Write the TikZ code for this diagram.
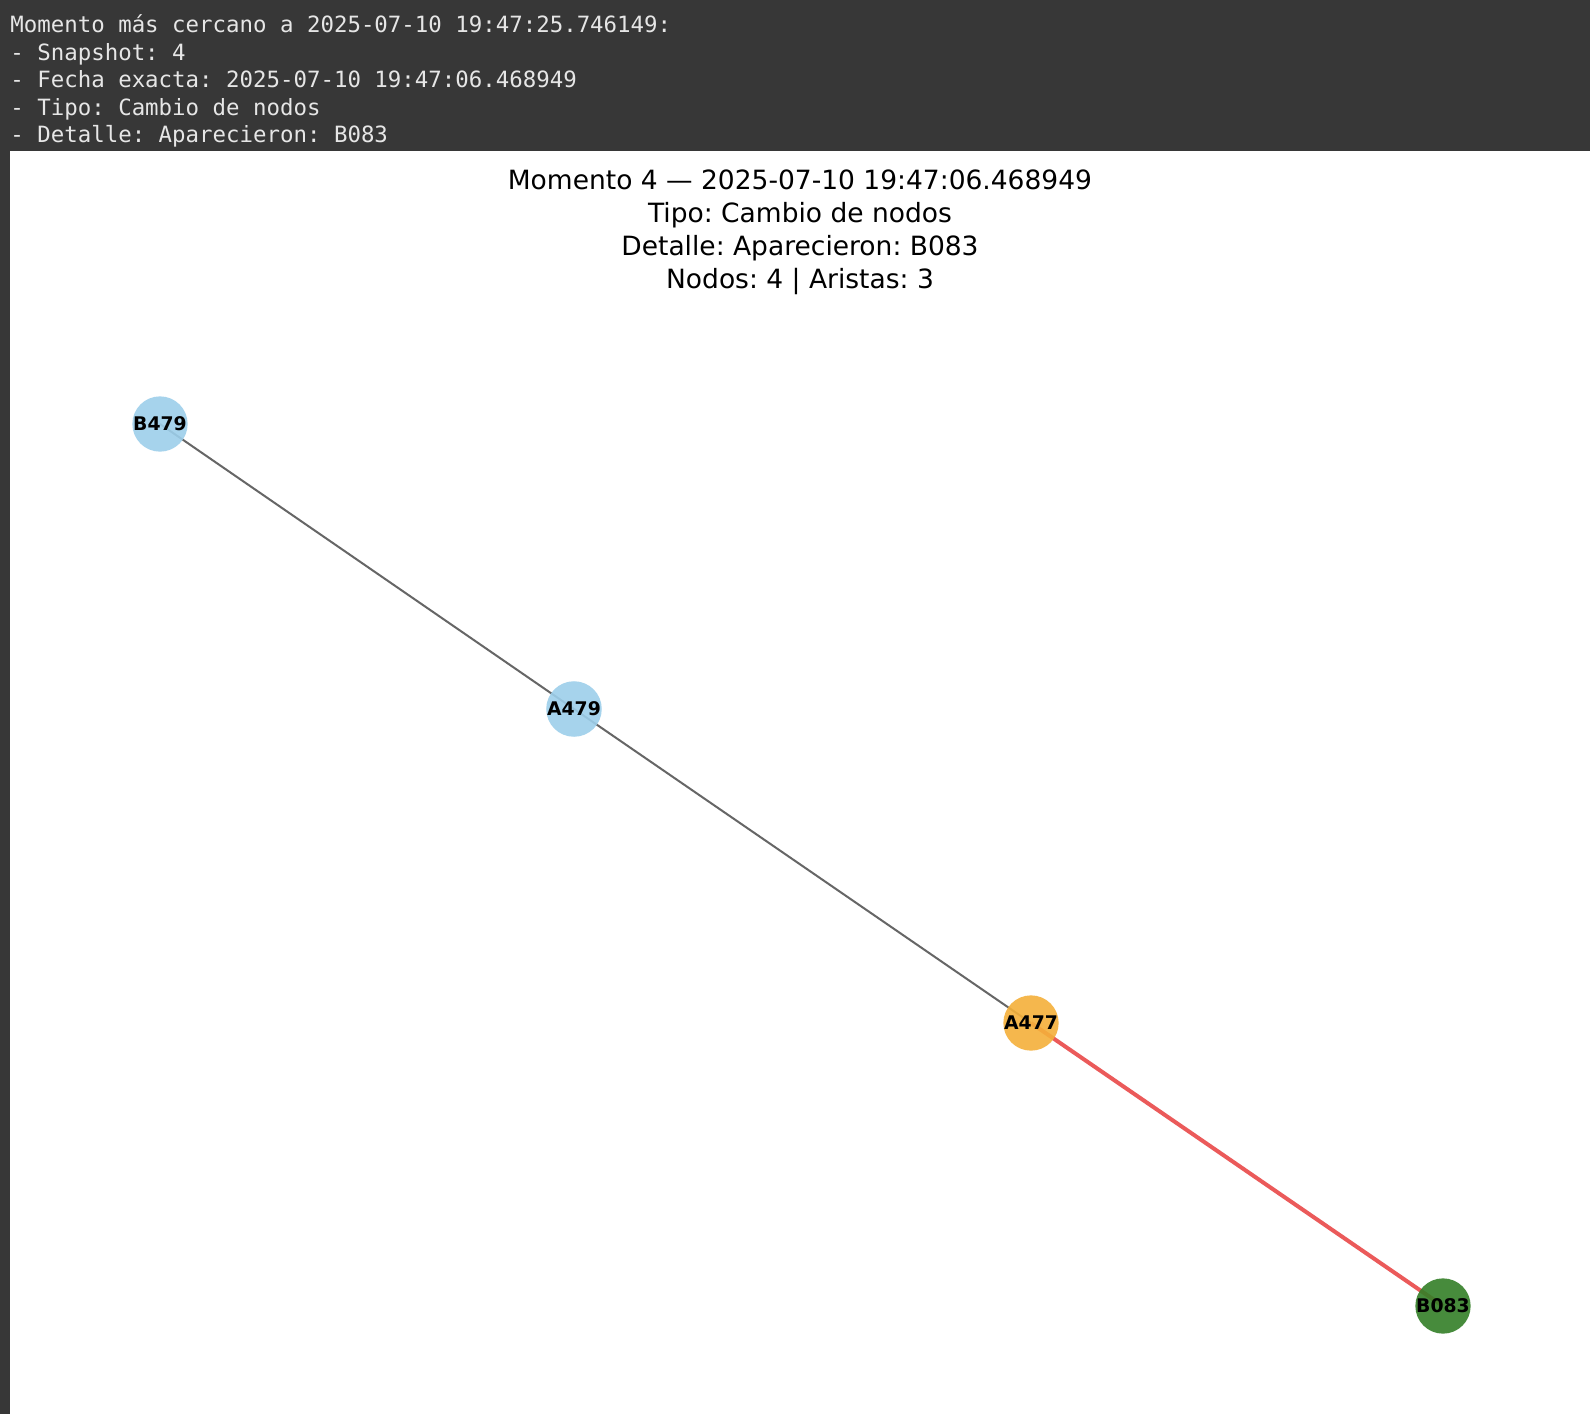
\documentclass[tikz,border=0pt]{standalone}
\usepackage{fontspec}
\setmainfont{DejaVu Sans}
\newfontfamily\headmono{DejaVu Sans Mono}
\frenchspacing
\usetikzlibrary{positioning}

\definecolor{bandgray}{HTML}{373737}
\definecolor{headtext}{HTML}{E6E6E6}
\definecolor{nodeblue}{HTML}{9DCFEB}
\definecolor{nodeorange}{HTML}{F4B03A}
\definecolor{nodegreen}{HTML}{337F27}
\definecolor{edgegray}{HTML}{666666}
\definecolor{edgered}{HTML}{EB5A5A}

\pgfdeclarelayer{back}
\pgfdeclarelayer{edges}
\pgfsetlayers{back,edges,main}

\tikzset{
  vert/.style={circle, minimum size=25pt, inner sep=0pt, fill opacity=0.9,
    text opacity=1, font=\fontsize{9.4}{10}\selectfont\bfseries},
  oldedge/.style={draw=edgegray, line width=1pt},
  newedge/.style={draw=edgered, line width=2pt},
}

\begin{document}
\begin{tikzpicture}[x=0.5pt, y=-0.5pt]
        \useasboundingbox (0,0) rectangle (1590,1414);
        % frame
        \begin{pgfonlayer}{back}
          \fill[bandgray] (0,0) rectangle (1590,151);
          \fill[bandgray] (0,151) rectangle (10,1414);
          \fill[white] (10,151) rectangle (1590,1414);
        \end{pgfonlayer}

        % console lines
        \foreach \line [count=\i] in {%
            {Momento más cercano a 2025-07-10 19:47:25.746149:},
            {- Snapshot: 4},
            {- Fecha exacta: 2025-07-10 19:47:06.468949},
            {- Tipo: Cambio de nodos},
            {- Detalle: Aparecieron: B083}}
          \node[anchor=base west, inner sep=0pt, text=headtext,
            font=\headmono\fontsize{11.2}{13}\selectfont]
            (h\i) at (10, 32.5+27.6*\i-27.6) {\line};

        % title
        \foreach \line [count=\i] in {%
            {Momento 4 — 2025-07-10 19:47:06.468949},
            {Tipo: Cambio de nodos},
            {Detalle: Aparecieron: B083},
            {Nodos: 4 | Aristas: 3}}
          \node[anchor=base, inner sep=0pt, font=\fontsize{13.25}{16}\selectfont]
            (t\i) at (800, 189+33.2*\i-33.2) {\line};

        % graph
        \node[vert, fill=nodeblue] (B479) at (160,424) {B479};
        \node[vert, fill=nodeblue] (A479) at (574,709) {A479};
        \node[vert, fill=nodeorange] (A477) at (1031,1023) {A477};
        \node[vert, fill=nodegreen] (B083) at (1443,1306) {B083};

        \begin{pgfonlayer}{edges}
          \draw[oldedge] (B479.center) -- (A479.center);
          \draw[oldedge] (A479.center) -- (A477.center);
          \draw[newedge] (A477.center) -- (B083.center);
        \end{pgfonlayer}
\end{tikzpicture}
\end{document}
